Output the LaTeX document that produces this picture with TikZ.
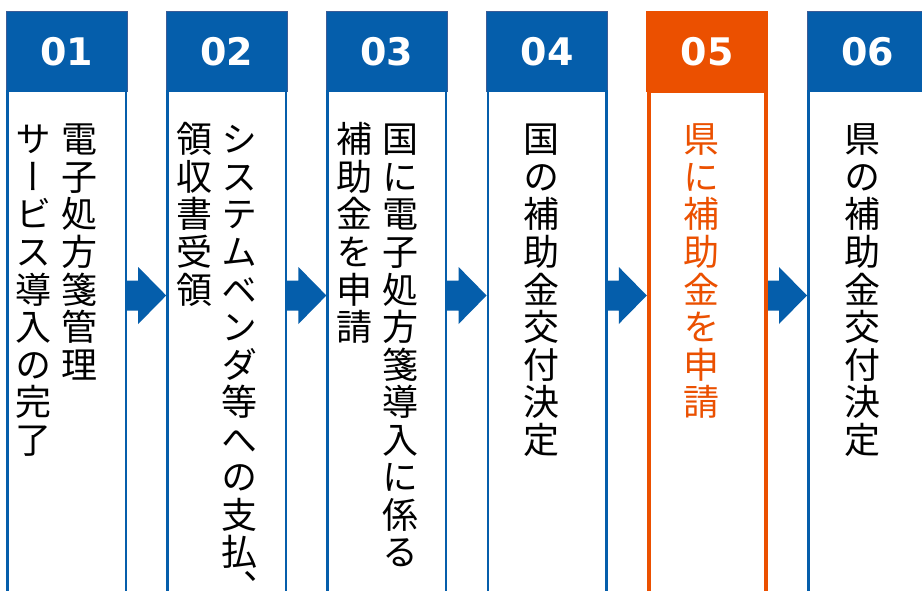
\documentclass[tikz,border=0pt]{standalone}
\usepackage{fontspec}
\usetikzlibrary{calc}
\newfontfamily\jpfont[RawFeature=+vert]{Noto Sans CJK JP}
\newfontfamily\jphfont{Noto Sans CJK JP}
\newfontfamily\numfont{DejaVu Sans}
\definecolor{hblue}{HTML}{055EAB}
\definecolor{hedge}{HTML}{3B5C96}
\definecolor{hor}{HTML}{EB5000}
\tikzset{
  hdr/.style={rectangle, minimum width=121pt, minimum height=79.5pt, inner sep=0pt, outer sep=0pt,
    fill=hblue, draw=hedge, line width=0.8pt, text=white,
    font=\numfont\bfseries\fontsize{38}{40}\selectfont},
  hdrorange/.style={hdr, fill=hor, draw=hor},
  bodyblue/.style={draw=hblue, line width=2.5pt},
  bodyorange/.style={draw=hor, line width=4pt},
  arrowfill/.style={fill=hblue},
  jch/.style={anchor=base, inner sep=0pt, text=black, font=\jpfont\fontsize{36}{40}\selectfont},
  jcomma/.style={anchor=base west, inner sep=0pt, text=black, font=\jphfont\fontsize{36}{40}\selectfont},
  jorange/.style={text=hor}
}
\newcommand\vcolumn[4]{\foreach \jc [count=\k] in {#4} {\node[jch,#3] (#1-\k) at (#2,{153+(\k-1)*37.5}) {\jc};}}
\newcommand\flowarrow[2]{\fill[arrowfill] ($(#1)+(-2,-15)$) -- ($(#2)+(-28,-15)$) -- ($(#2)+(-28,-28.5)$) -- (#2) -- ($(#2)+(-28,28.5)$) -- ($(#2)+(-28,15)$) -- ($(#1)+(-2,15)$) -- cycle;}
\begin{document}
\begin{tikzpicture}[x=1pt,y=-1pt]
\useasboundingbox (0,0) rectangle (922,591);
\clip (0,0) rectangle (922,591);
\fill[white] (0,0) rectangle (922,591);
% headers
\node[hdr] (h1) at (66.5,51.25) {\raisebox{-1.5pt}{01}};
\node[hdr] (h2) at (226.7,51.25) {\raisebox{-1.5pt}{02}};
\node[hdr] (h3) at (386.9,51.25) {\raisebox{-1.5pt}{03}};
\node[hdr] (h4) at (547.1,51.25) {\raisebox{-1.5pt}{04}};
\node[hdrorange] (h5) at (707.3,51.25) {\raisebox{-1.5pt}{05}};
\node[hdr] (h6) at (867.5,51.25) {\raisebox{-1.5pt}{06}};
% arrows
\coordinate (ay) at (0,295.5);
\coordinate (a1s) at (h1.east |- ay); \coordinate (a1e) at (h2.west |- ay);
\coordinate (a2s) at (h2.east |- ay); \coordinate (a2e) at (h3.west |- ay);
\coordinate (a3s) at (h3.east |- ay); \coordinate (a3e) at (h4.west |- ay);
\coordinate (a4s) at (h4.east |- ay); \coordinate (a4e) at (h5.west |- ay);
\coordinate (a5s) at (h5.east |- ay); \coordinate (a5e) at (h6.west |- ay);
\flowarrow{a1s}{a1e}
\flowarrow{a2s}{a2e}
\flowarrow{a3s}{a3e}
\flowarrow{a4s}{a4e}
\flowarrow{a5s}{a5e}
% bodies
\foreach \h in {h1,h2,h3,h4,h6} {
  \draw[bodyblue] ($(\h.south west)+(1.25,0)$) rectangle ($(\h.south east)+(-1.25,520)$);
}
\draw[bodyorange] ($(h5.south west)+(2,0)$) rectangle ($(h5.south east)+(-2,520)$);
% texts
\vcolumn{t1r}{79}{}{電,子,処,方,箋,管,理}
\vcolumn{t1l}{34}{}{サ,ー,ビ,ス,導,入,の,完,了}
\vcolumn{t2r}{239.5}{}{シ,ス,テ,ム,ベ,ン,ダ,等,へ,の,支,払}
\node[jcomma] (t2r-13) at (243,579) {、};
\vcolumn{t2l}{194}{}{領,収,書,受,領}
\vcolumn{t3r}{400}{}{国,に,電,子,処,方,箋,導,入,に,係,る}
\vcolumn{t3l}{354}{}{補,助,金,を,申,請}
\vcolumn{t4}{541.5}{}{国,の,補,助,金,交,付,決,定}
\vcolumn{t5}{701.5}{jorange}{県,に,補,助,金,を,申,請}
\vcolumn{t6}{862.5}{}{県,の,補,助,金,交,付,決,定}
\end{tikzpicture}
\end{document}
